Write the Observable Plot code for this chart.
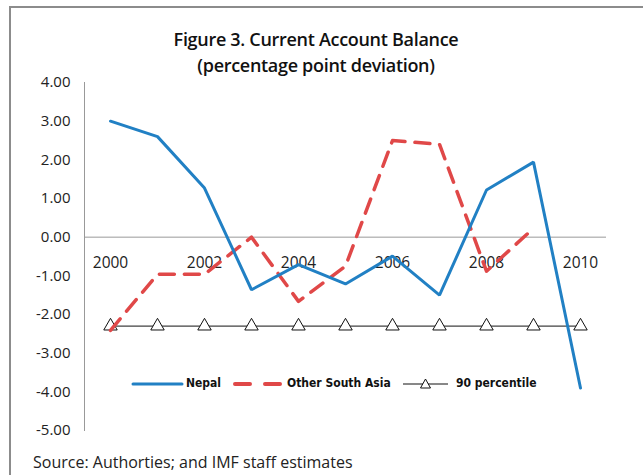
<!DOCTYPE html>
<html>
<head>
<meta charset="utf-8">
<script src="https://cdn.jsdelivr.net/npm/d3@7"></script>
<script src="https://cdn.jsdelivr.net/npm/@observablehq/plot@0.6"></script>
<style>
  html, body { margin: 0; padding: 0; background: #fff; }
  body { width: 643px; height: 475px; position: relative; overflow: hidden; font-family: "Open Sans", "DejaVu Sans", sans-serif; }
  #frame { position: absolute; left: 9px; top: 6px; width: 700px; height: 520px; border-left: 2px solid #8c8c8c; border-top: 2px solid #8c8c8c; }
  #title { position: absolute; left: 0; width: 632px; top: 26px; text-align: center; font-size: 18px; font-weight: 600; line-height: 26px; color: #111; letter-spacing: -0.3px; }
  #chart { position: absolute; left: 0; top: 0; }
  #legend { position: absolute; top: 375px; left: 0; height: 18px; font-size: 12px; font-weight: 700; color: #111; font-family: "DejaVu Sans Condensed", "Liberation Sans Narrow", sans-serif; }
  #legend .item { position: absolute; top: 0; white-space: nowrap; }
  #legend svg { position: absolute; top: 0; }
  #source { position: absolute; left: 33px; top: 453px; font-size: 16px; line-height: 19px; color: #222; white-space: nowrap; }
</style>
</head>
<body>
<div id="frame"></div>
<div id="chart"></div>
<div id="title">Figure 3. Current Account Balance<br>(percentage point deviation)</div>
<div id="legend"></div>
<div id="source">Source: Authorties; and IMF staff estimates</div>
<script>
const years = [2000, 2001, 2002, 2003, 2004, 2005, 2006, 2007, 2008, 2009, 2010];
const nepal = [3.0, 2.6, 1.27, -1.36, -0.71, -1.21, -0.49, -1.5, 1.22, 1.94, -3.9];
const otherSouthAsia = [-2.41, -0.96, -0.96, 0.0, -1.66, -0.75, 2.5, 2.4, -0.88, 0.23, null];
const percentile90 = [-2.3, -2.3, -2.3, -2.3, -2.3, -2.3, -2.3, -2.3, -2.3, -2.3, -2.3];
const yTicks = [4, 3, 2, 1, 0, -1, -2, -3, -4, -5];
const yearLabels = [2000, 2002, 2004, 2006, 2008, 2010];

const seriesNames = ["Nepal", "Other South Asia", "90 percentile"];
const colors = { "Nepal": "#2180c4", "Other South Asia": "#e04848", "90 percentile": "#111" };

const nepalData = years.map((y, i) => ({ year: y, value: nepal[i] }));
const otherData = years.map((y, i) => ({ year: y, value: otherSouthAsia[i] })).filter(d => d.value != null);
const pctData = years.map((y, i) => ({ year: y, value: percentile90[i] }));

const chart = Plot.plot({
  width: 643,
  height: 475,
  marginLeft: 84,
  marginRight: 37,
  marginTop: 82,
  marginBottom: 45,
  style: { fontFamily: "'Open Sans', 'DejaVu Sans', sans-serif", fontSize: "15px", color: "#222", background: "transparent" },
  x: { type: "point", domain: years, padding: 0.5, axis: null },
  y: { domain: [-5, 4], axis: null },
  marks: [
    Plot.frame({ anchor: "left", stroke: "#999", strokeWidth: 1 }),
    Plot.axisY(yTicks, { anchor: "left", label: null, tickSize: 0, tickPadding: 14, tickFormat: d => d.toFixed(2), fontSize: 15, fill: "#222" }),
    Plot.ruleY([0], { stroke: "#999", strokeWidth: 1 }),
    Plot.text(yearLabels, { x: d => d, y: () => 0, text: d => String(d), dy: 26, fontSize: 15.5, fill: "#222" }),
    Plot.line(pctData, { x: "year", y: "value", stroke: colors["90 percentile"], strokeWidth: 1 }),
    Plot.dot(pctData, { x: "year", y: "value", symbol: "triangle", r: 5, stroke: "#111", fill: "#fff", strokeWidth: 1 }),
    Plot.line(otherData, { x: "year", y: "value", stroke: colors["Other South Asia"], strokeWidth: 3.5, strokeDasharray: "15 10", strokeLinecap: "round", strokeLinejoin: "round" }),
    Plot.line(nepalData, { x: "year", y: "value", stroke: colors["Nepal"], strokeWidth: 3, strokeLinejoin: "miter" })
  ]
});
document.getElementById("chart").appendChild(chart);

// legend (HTML overlay)
const legend = document.getElementById("legend");
const legendItems = [
  { name: "Nepal", x0: 133, x1: 182, tx: 186 },
  { name: "Other South Asia", x0: 235, x1: 283, tx: 287 },
  { name: "90 percentile", x0: 403, x1: 448, tx: 456 }
];
legendItems.forEach(it => {
  const w = it.x1 - it.x0;
  const svg = d3.create("svg").attr("width", w + 4).attr("height", 18).style("left", (it.x0 - 2) + "px");
  const g = svg.append("line").attr("x1", 2).attr("x2", w + 2).attr("y1", 9).attr("y2", 9).attr("stroke", colors[it.name]);
  if (it.name === "Nepal") g.attr("stroke-width", 3).attr("stroke-linecap", "round");
  if (it.name === "Other South Asia") g.attr("stroke-width", 4).attr("stroke-dasharray", "15 15").attr("stroke-linecap", "round");
  if (it.name === "90 percentile") {
    g.attr("stroke-width", 1);
    const cx = w / 2 + 2;
    svg.append("path").attr("d", `M${cx},${4} L${cx + 5},${13} L${cx - 5},${13} Z`).attr("fill", "#fff").attr("stroke", "#111");
  }
  legend.appendChild(svg.node());
  const span = document.createElement("span");
  span.className = "item";
  span.style.left = it.tx + "px";
  span.style.top = "1px";
  span.textContent = it.name;
  legend.appendChild(span);
});
</script>
</body>
</html>
